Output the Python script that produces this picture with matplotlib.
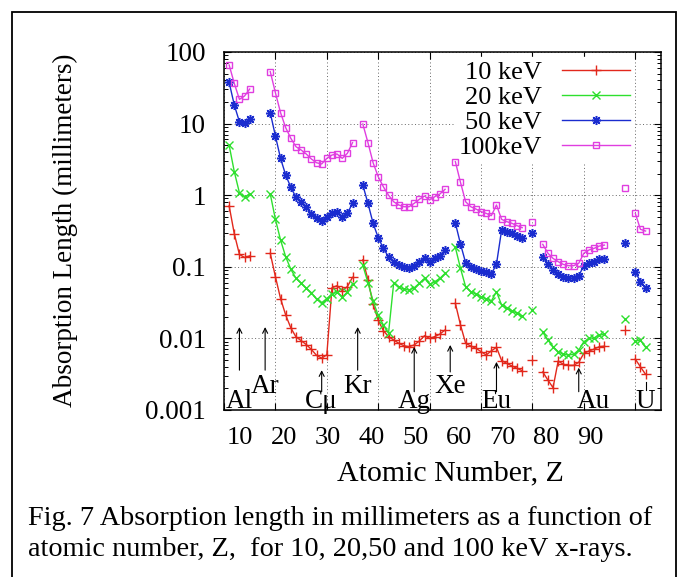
import numpy as np
import matplotlib
matplotlib.use("Agg")
import matplotlib.pyplot as plt
from matplotlib.patches import Rectangle
from matplotlib.ticker import LogLocator, NullFormatter, FixedLocator, FuncFormatter
import matplotlib.transforms as mtransforms

plt.rcParams["font.family"] = ["Liberation Serif", "DejaVu Serif"]

# atomic numbers with data (elements in the gaps are not plotted)
Z = (list(range(11, 16)) + list(range(19, 36)) + list(range(37, 54))
     + list(range(55, 69)) + [70] + list(range(72, 85)) + [88] + [90, 91, 92])

kev10 = [0.71, 0.29, 0.149, 0.135, 0.142,
         0.154, 0.0728, 0.036, 0.0212, 0.014, 0.0105, 0.0093, 0.0082, 0.0070,
         0.0058, 0.0053, 0.0059, 0.051, 0.0545, 0.0464, 0.053, 0.0713,
         0.125, 0.066, 0.030, 0.018, 0.0128, 0.0106, 0.0095, 0.00855, 0.0079,
         0.00766, 0.0081, 0.0092, 0.0109, 0.0100, 0.0106, 0.0115, 0.0131,
         0.0309, 0.0154, 0.00855, 0.00783, 0.00728, 0.00653, 0.00586, 0.0067,
         0.0075, 0.0049, 0.00449, 0.00412, 0.00382, 0.00354,
         0.005,
         0.0034, 0.00262, 0.00205, 0.00483, 0.00435, 0.0042, 0.0042, 0.00463,
         0.0062, 0.00667, 0.0071, 0.00766, 0.0078,
         0.0131,
         0.00515, 0.0040, 0.00315]

kev20 = [5.0, 2.13, 1.08, 0.95, 1.03,
         1.04, 0.46, 0.237, 0.138, 0.0923, 0.069, 0.0588, 0.0501, 0.0435,
         0.0352, 0.0315, 0.036, 0.042, 0.044, 0.038, 0.044, 0.058,
         0.105, 0.060, 0.033, 0.021, 0.0154, 0.0118, 0.0588, 0.0527, 0.0484,
         0.0474, 0.051, 0.0588, 0.069, 0.0569, 0.062, 0.069, 0.081,
         0.187, 0.095, 0.0527, 0.0449, 0.0417, 0.0383, 0.0355, 0.0333,
         0.0449, 0.0292, 0.0263, 0.0244, 0.0224, 0.0206,
         0.0249,
         0.0122, 0.0095, 0.00766, 0.00653, 0.006, 0.00586, 0.006, 0.00689,
         0.0090, 0.010, 0.0102, 0.0111, 0.0114,
         0.0185,
         0.0092, 0.0094, 0.0075]

kev50 = [37.7, 18.2, 10.6, 10.1, 11.6,
         14.2, 6.71, 3.27, 1.91, 1.29, 0.935, 0.811, 0.690, 0.546,
         0.475, 0.440, 0.501, 0.570, 0.577, 0.501, 0.558, 0.771,
         1.39, 0.77, 0.405, 0.255, 0.181, 0.138, 0.118, 0.106, 0.0984,
         0.0953, 0.1035, 0.118, 0.134, 0.118, 0.131, 0.143, 0.172,
         0.41, 0.208, 0.114, 0.100, 0.0922, 0.0883, 0.0838, 0.0793,
         0.109, 0.327, 0.309, 0.294, 0.269, 0.25,
         0.294,
         0.138, 0.108, 0.0902, 0.0785, 0.0728, 0.069, 0.069, 0.0752,
         0.1035, 0.112, 0.118, 0.128, 0.128,
         0.213,
         0.0855, 0.062, 0.0501]

kev100 = [65.8, 36.5, 21.8, 24.3, 30.4,
          53.1, 27.0, 14.2, 8.77, 6.22, 4.76, 4.28, 3.76, 3.2,
          2.84, 2.73, 3.27, 3.64, 3.76, 3.27, 3.85, 5.42,
          9.87, 5.42, 2.84, 1.81, 1.31, 1.0, 0.81, 0.73, 0.69,
          0.69, 0.77, 0.877, 0.975, 0.857, 0.953, 1.04, 1.21,
          2.94, 1.51, 0.81, 0.69, 0.641, 0.589, 0.558, 0.518,
          0.73, 0.46, 0.427, 0.405, 0.375, 0.352,
          0.418,
          0.206, 0.155, 0.131, 0.118, 0.108, 0.1035, 0.1035, 0.112,
          0.155, 0.172, 0.181, 0.195, 0.201,
          1.25,
          0.558, 0.334, 0.316]

labels = ["10 keV", "20 keV", "50 keV", "100keV"]
colors = ["#e2281c", "#2ee02e", "#1a2ccf", "#e03ee0"]

# element markers: name, Z of the arrow, arrow tail/head, label position
elements = ["Al", "Ar", "C\u03bc", "Kr", "Ag", "Xe", "Eu", "Au", "U"]
element_z = [13, 18, 29, 36, 47, 54, 63, 79, 92]
arrow_tail = [0.0036, 0.0036, 0.0018, 0.0036, 0.0018, 0.0034, 0.0018, 0.0018, 0.0019]
arrow_head = [0.0144, 0.0144, 0.0036, 0.0144, 0.0076, 0.0081, 0.0047, 0.0039, 0.0025]
label_z = [13, 18, 29, 36, 47, 54, 63, 81.9, 92]
label_base = [0.006, 0.048, 0.006, 0.048, 0.006, 0.048, 0.006, 0.006, 0.006]

xtick_vals = [10, 20, 30, 40, 50, 60, 70, 80, 90]


def with_gaps(z, v):
    zz, vv = [], []
    for i in range(len(z)):
        if i > 0 and z[i] - z[i - 1] > 1:
            zz.append(np.nan)
            vv.append(np.nan)
        zz.append(z[i])
        vv.append(v[i])
    return zz, vv


fig = plt.figure(figsize=(6.82, 5.77), dpi=100)
ax = fig.add_axes([224 / 682, 1 - 410 / 577, 437 / 682, 358 / 577])

styles = [dict(marker="+", ms=7, mew=1.0),
          dict(marker="x", ms=5.5, mew=1.0),
          dict(marker=(8, 2, 0), ms=6.5, mew=1.1),
          dict(marker="s", ms=5, mew=1.0, mfc="none")]

for vals, lab, col, st in zip([kev10, kev20, kev50, kev100], labels, colors, styles):
    zz, vv = with_gaps(Z, vals)
    ax.plot(zz, vv, color=col, lw=1.0, label=lab, mec=col, **st)

ax.set_yscale("log")
ax.set_ylim(0.001, 100)
ax.set_xlim(10, 95)

ax.xaxis.set_major_locator(FixedLocator(xtick_vals))
ax.xaxis.set_major_formatter(NullFormatter())
ax.yaxis.set_major_locator(LogLocator(base=10, numticks=10))
ax.yaxis.set_minor_locator(LogLocator(base=10, subs=range(2, 10), numticks=20))
ax.yaxis.set_minor_formatter(NullFormatter())
ax.yaxis.set_major_formatter(FuncFormatter(lambda v, p: "%g" % v))

ax.tick_params(which="both", direction="in", top=True, right=True)
ax.tick_params(which="major", length=5, width=0.8, labelsize=19.5, pad=13)
ax.tick_params(which="minor", length=3, width=0.7)
ax.grid(True, which="major", ls=(0, (1, 2.5)), color="0.4", lw=0.7)
for s in ax.spines.values():
    s.set_linewidth(1.1)

leg = ax.legend(loc="upper right", bbox_to_anchor=(0.937, 0.985),
                borderaxespad=0, markerfirst=False, fontsize=19,
                handlelength=2.6, handletextpad=0.75, labelspacing=0.06,
                borderpad=0.12, frameon=True, fancybox=False,
                facecolor="white", edgecolor="white", framealpha=1)
# above the grid, below the data
leg.set_zorder(1.8)

# arrows and element names
trans = mtransforms.blended_transform_factory(ax.transData, ax.transAxes)
for name, z, t, h, lz, lb in zip(elements, element_z, arrow_tail, arrow_head,
                                 label_z, label_base):
    if name == "U":
        ax.plot([z, z], [t, h], color="black", lw=0.8)
    else:
        ax.annotate("", xy=(z, h), xytext=(z, t),
                    arrowprops=dict(arrowstyle="->", lw=0.8, color="black",
                                    shrinkA=0, shrinkB=0, mutation_scale=9))
    ax.text(lz, lb, name, transform=trans, ha="center", va="baseline",
            fontsize=19.5)

# x tick numbers (as typed in the original, slightly offset from the grid)
for i, v in enumerate(xtick_vals):
    fig.text((240 + 43.75 * i) / 682, 1 - 438 / 577, str(v),
             ha="center", va="center", fontsize=19)

fig.text(450 / 682, 1 - 473 / 577, "Atomic Number, Z", ha="center",
         va="center", fontsize=21.5)
fig.text(65 / 682, 1 - 230 / 577, "Absorption Length (millimeters)",
         rotation=90, ha="center", va="center", fontsize=19.5)

fig.text(28 / 682, 1 - 525 / 577,
         "Fig. 7 Absorption length in millimeters as a function of",
         ha="left", va="baseline", fontsize=20.3)
fig.text(28 / 682, 1 - 556 / 577,
         "atomic number, Z,  for 10, 20,50 and 100 keV x-rays.",
         ha="left", va="baseline", fontsize=20.3)

fig.patches.append(Rectangle((12 / 682, -0.05), 664 / 682, 1 - 12 / 577 + 0.05,
                             transform=fig.transFigure, fill=False,
                             ec="black", lw=1.3))

fig.savefig("out.png", dpi=100)
